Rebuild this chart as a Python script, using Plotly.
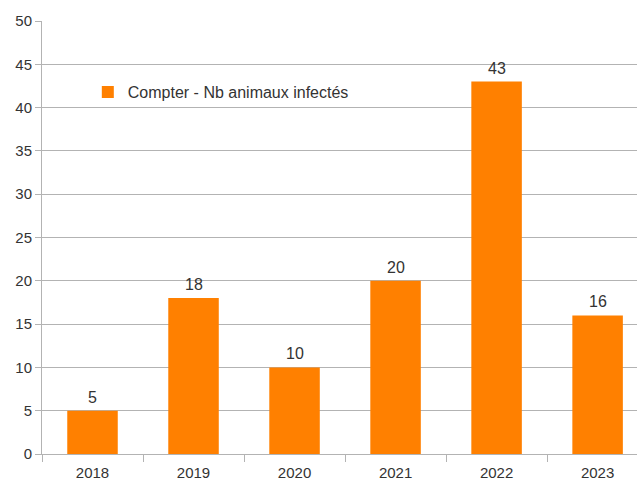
import plotly.graph_objects as go

years = ["2018", "2019", "2020", "2021", "2022", "2023"]
counts = [5, 18, 10, 20, 43, 16]
series_name = "Compter - Nb animaux infectés"
y_ticks = list(range(0, 55, 5))

ORANGE = "#ff8000"
GRID = "#b3b3b3"
TEXT = "#333333"
FONT = "Liberation Sans, Arial, sans-serif"

fig = go.Figure()
fig.add_trace(go.Bar(
    x=years, y=counts, name=series_name,
    marker=dict(color=ORANGE, line=dict(width=0)),
    showlegend=True,
))

for i, c in enumerate(counts):
    fig.add_annotation(x=i, y=c, xref="x", yref="y", text=str(c), showarrow=False,
                       yanchor="bottom", yshift=3,
                       font=dict(family=FONT, size=16, color=TEXT))

fig.update_layout(
    width=638, height=481,
    margin=dict(l=42, r=1, t=21, b=27, pad=0),
    paper_bgcolor="white", plot_bgcolor="white",
    bargap=0.5,
    font=dict(family=FONT, size=15, color=TEXT),
    showlegend=True,
    legend=dict(x=0.077, y=0.836, xanchor="left", yanchor="middle",
                bgcolor="rgba(0,0,0,0)", itemwidth=30,
                font=dict(family=FONT, size=16, color=TEXT)),
    xaxis=dict(
        type="category", range=[-0.5, 5.39], automargin=False,
        showgrid=False, showline=True, linecolor=GRID, linewidth=1,
        ticks="outside", tickson="boundaries", ticklen=7, tickcolor=GRID,
        ticklabelstandoff=5,
        tickfont=dict(family=FONT, size=15, color=TEXT),
    ),
    yaxis=dict(
        range=[0, 50], tickvals=y_ticks, automargin=False,
        showgrid=True, gridcolor=GRID, gridwidth=1,
        showline=True, linecolor=GRID, linewidth=1,
        ticks="outside", ticklen=6, tickcolor=GRID,
        zeroline=False,
        tickfont=dict(family=FONT, size=15, color=TEXT),
    ),
)

fig.write_html("out.html")
